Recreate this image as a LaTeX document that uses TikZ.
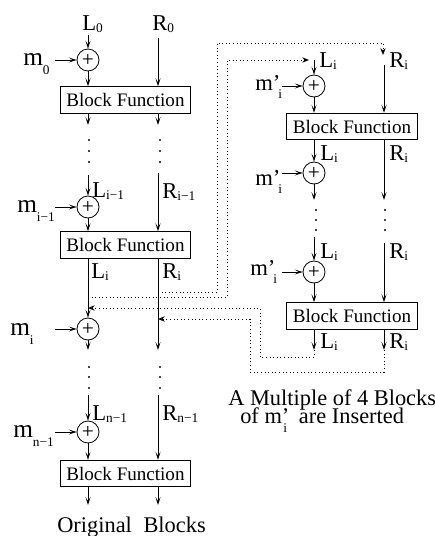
\documentclass[tikz,border=0pt]{standalone}
\usepackage{fontspec}
\setmainfont{Liberation Serif}
\usetikzlibrary{arrows.meta}
\newcommand\sz[1]{\fontsize{#1}{#1}\selectfont}
\newcommand\lsub[2][2pt]{\raisebox{-#1}{\sz{10}#2}}
\begin{document}
\begin{tikzpicture}[x=0.75pt,y=-0.75pt,
  arr/.style={-{Stealth[length=6pt,width=3.8pt,inset=3pt]}, line width=0.6pt},
  dotarr/.style={dotted, line width=0.7pt, -{Stealth[open,length=5pt,width=4pt,inset=1.5pt]}},
  xor/.style={circle, draw, line width=0.6pt, minimum size=16.5pt, inner sep=0pt, font=\sz{16}},
  blk/.style={draw, line width=0.6pt, minimum width=98pt, minimum height=20pt, inner sep=0pt, font=\sz{14.3}},
  lab/.style={anchor=base west, inner sep=0pt, font=\sz{17}},
  mlab/.style={anchor=base west, inner sep=0pt, font=\sz{19}},
  captxt/.style={anchor=base west, inner sep=0pt, font=\sz{16.8}}]
\useasboundingbox (0,0) rectangle (435,536);

% ---------------- left column ----------------
\node[lab] (L0) at (82,30) {L\lsub{0}};
\node[lab] (R0) at (152,30) {R\lsub{0}};
\coordinate (l0t) at (88,35);
\coordinate (r0t) at (158,38);
\node[xor] (x1) at (88,60) {+};
\node[mlab] (m0) at (23,65) {m\lsub[7pt]{0}};
\coordinate (m0a) at (55,60);
\node[blk] (b1) at (125.5,100) {Block Function};
\draw[arr] (l0t) -- (x1);
\draw[arr] (m0a) -- (x1);
\draw[arr] (x1) -- (x1 |- b1.north);
\draw[arr] (r0t) -- (r0t |- b1.north);
\coordinate (la1) at (88,125);
\coordinate (ra1) at (158,125);
\draw[arr] (b1.south -| la1) -- (la1);
\draw[arr] (b1.south -| ra1) -- (ra1);
\foreach \y in {140,151,162} {\fill (89,\y) circle (1.1); \fill (160,\y) circle (1.1);}

\coordinate (l1t) at (88,175);
\coordinate (r1t) at (158,173);
\node[lab] (Li1) at (92,197) {L\lsub{i−1}};
\node[lab] (Ri1) at (162,198) {R\lsub{i−1}};
\node[xor] (x2) at (88,207) {+};
\node[mlab] (mi1) at (17,212) {m\lsub[7pt]{i−1}};
\coordinate (mi1a) at (55,207);
\node[blk] (b2) at (125.5,245) {Block Function};
\draw[arr] (l1t) -- (x2);
\draw[arr] (mi1a) -- (x2);
\draw[arr] (x2) -- (x2 |- b2.north);
\draw[arr] (r1t) -- (r1t |- b2.north);

\node[lab] (Li) at (91,278) {L\lsub{i}};
\node[lab] (Ri) at (162,278) {R\lsub{i}};
\node[xor] (x3) at (88,329) {+};
\node[mlab] (mi) at (10,335) {m\lsub[7pt]{i}};
\coordinate (mia) at (55,329);
\coordinate (ra2) at (158,350);
\coordinate (la2) at (88,350);
\draw[arr] (b2.south -| x3) -- (x3);
\draw[arr] (mia) -- (x3);
\draw[arr] (x3) -- (la2);
\draw[arr] (b2.south -| ra2) -- (ra2);
\foreach \y in {367,377,388} {\fill (89,\y) circle (1.1); \fill (160,\y) circle (1.1);}

\coordinate (l3t) at (88,395);
\coordinate (r3t) at (158,395);
\node[lab] (Ln1) at (92,420) {L\lsub{n−1}};
\node[lab] (Rn1) at (162,420) {R\lsub{n−1}};
\node[xor] (x4) at (88,432) {+};
\node[mlab] (mn1) at (13,437) {m\lsub[7pt]{n−1}};
\coordinate (mn1a) at (55,432);
\node[blk] (b3) at (125.5,473.5) {Block Function};
\draw[arr] (l3t) -- (x4);
\draw[arr] (mn1a) -- (x4);
\draw[arr] (x4) -- (x4 |- b3.north);
\draw[arr] (r3t) -- (r3t |- b3.north);
\coordinate (la3) at (88,505);
\coordinate (ra3) at (158,505);
\draw[arr] (b3.south -| la3) -- (la3);
\draw[arr] (b3.south -| ra3) -- (ra3);
\node[captxt] (orig) at (57,532) {Original\hspace{4.5pt} Blocks};

% ---------------- right column ----------------
\coordinate (Lt) at (314,60);
\coordinate (Rt) at (384,65);
\node[lab] (rL1) at (319,67) {L\lsub{i}};
\node[lab] (rR1) at (389,67) {R\lsub{i}};
\node[xor] (y1) at (314,86) {+};
\node[lab] (mp1) at (255,90) {m’\kern-1.5pt\lsub[6pt]{i}};
\coordinate (mp1a) at (282,86);
\node[blk] (c1) at (352,126.5) {Block Function};
\draw[arr] (Lt) -- (y1);
\draw[arr] (mp1a) -- (y1);
\draw[arr] (y1) -- (y1 |- c1.north);
\draw[arr] (Rt) -- (Rt |- c1.north);

\node[lab] (rL2) at (320,160) {L\lsub{i}};
\node[lab] (rR2) at (389,160) {R\lsub{i}};
\node[xor] (y2) at (314,173) {+};
\node[lab] (mp2) at (255,185) {m’\kern-1.5pt\lsub[6pt]{i}};
\coordinate (mp2a) at (282,173);
\coordinate (lb2) at (314,200);
\coordinate (rb2) at (384,200);
\draw[arr] (c1.south -| y2) -- (y2);
\draw[arr] (mp2a) -- (y2);
\draw[arr] (y2) -- (lb2);
\draw[arr] (c1.south -| rb2) -- (rb2);
\foreach \y in {210,220,230} {\fill (316,\y) circle (1.1); \fill (385,\y) circle (1.1);}

\coordinate (Lt3) at (314,237);
\coordinate (Rt3) at (384,243);
\node[lab] (rL3) at (320,258) {L\lsub{i}};
\node[lab] (rR3) at (389,258) {R\lsub{i}};
\node[xor] (y3) at (314,272) {+};
\node[lab] (mp3) at (250,275) {m’\kern-1.5pt\lsub[6pt]{i}};
\coordinate (mp3a) at (282,272);
\node[blk] (c2) at (352,316) {Block Function};
\draw[arr] (Lt3) -- (y3);
\draw[arr] (mp3a) -- (y3);
\draw[arr] (y3) -- (y3 |- c2.north);
\draw[arr] (Rt3) -- (Rt3 |- c2.north);
\coordinate (Lo) at (314,350);
\coordinate (Ro) at (384,350);
\draw[arr] (c2.south -| Lo) -- (Lo);
\draw[arr] (c2.south -| Ro) -- (Ro);
\node[lab] (rL4) at (320,348) {L\lsub{i}};
\node[lab] (rR4) at (389,348) {R\lsub{i}};

\node[captxt] (cap1) at (228,405) {A Multiple of 4 Blocks};
\node[captxt] (cap2) at (240,423) {of m\rlap{’}\kern1pt\lsub[7pt]{i}\hspace{9pt}are Inserted};

% ---------------- dotted feedback ----------------
\coordinate (tapR) at (158,292);
\coordinate (tapL) at (88,297);
\coordinate (inL) at (88,308);
\coordinate (inR) at (158,319);
\coordinate (RtIn) at (383,55);
\coordinate (LtIn) at (309,60);
\draw[dotarr] (tapR) -- (217,292) -- (217,43) -- (383,43) -- (RtIn);
\draw[dotarr] (tapL) -- (227,297) -- (227,60) -- (LtIn);
\draw[dotarr] (Lo) -- (314,357) -- (260,357) -- (260,308) -- (inL);
\draw[dotarr] (Ro) -- (384,372) -- (250,372) -- (250,319) -- (inR);
\end{tikzpicture}
\end{document}
